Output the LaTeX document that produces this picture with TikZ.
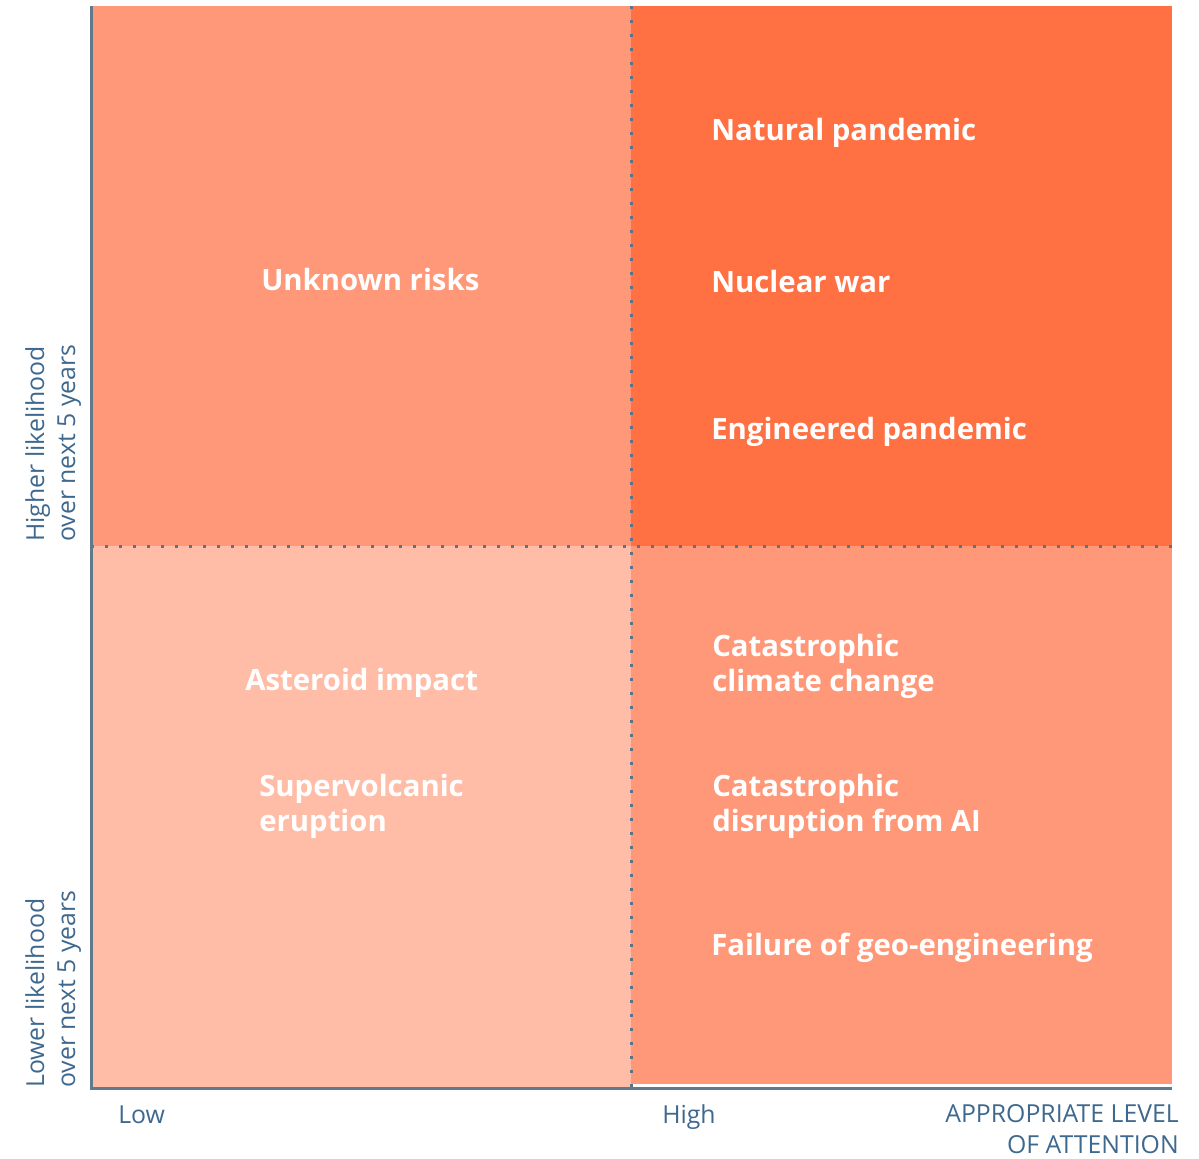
\documentclass[tikz,border=0pt]{standalone}
\usepackage{fontspec}
\setmainfont{Open Sans}
\definecolor{cellmid}{HTML}{FF9878}
\definecolor{cellhigh}{HTML}{FF7043}
\definecolor{celllow}{HTML}{FFBCA6}
\definecolor{axisgray}{HTML}{607A8C}
\definecolor{dotgray}{HTML}{5E7282}
\definecolor{axisblue}{HTML}{3E688E}
\tikzset{
  risk/.style={anchor=base west, inner sep=0pt, text=white, align=left,
    font=\fontsize{22}{26.25}\selectfont\bfseries},
  axislbl/.style={inner sep=0pt, text=axisblue,
    font=\fontsize{18.6}{23.25}\selectfont},
  divider/.style={dotgray, line width=2.25, dash pattern=on 2.25 off 8.25},
}
\begin{document}
\begin{tikzpicture}[x=0.75pt,y=0.75pt,yscale=-1,xscale=1]
\useasboundingbox (0,0) rectangle (1199,1158);

%Shape: Rectangle [upper left]
\fill [cellmid] (91,6) rectangle (631,546);
%Shape: Rectangle [upper right]
\fill [cellhigh] (631,6) rectangle (1172,546);
%Shape: Rectangle [lower left]
\fill [celllow] (91,546) rectangle (631,1087);
%Shape: Rectangle [lower right]
\fill [cellmid] (631,546) rectangle (1172,1084);

%Dotted Lines
\draw [divider] (631,6) -- (631,1087) ;
\draw [divider] (91,546) -- (1172,546) ;

%Straight Lines [axes]
\draw [axisgray, line width=2.25] (91,6) -- (91,1088) -- (1172,1088) ;

% Text Node
\draw (261,290) node [risk] (unknown) {Unknown risks};
% Text Node
\draw (711,140) node [risk] (natural) {Natural pandemic};
% Text Node
\draw (711,292) node [risk] (nuclear) {Nuclear war};
% Text Node
\draw (711,439) node [risk] (engineered) {Engineered pandemic};
% Text Node
\draw (245,690) node [risk] (asteroid) {Asteroid impact};
% Text Node
\draw (259,831) node [risk] (volcano) {Supervolcanic\\eruption};
% Text Node
\draw (712,691) node [risk] (climate) {Catastrophic\\climate change};
% Text Node
\draw (712,831) node [risk] (ai) {Catastrophic\\disruption from AI};
% Text Node
\draw (711,955) node [risk] (geo) {Failure of geo-engineering};

% Text Node
\draw (118,1123) node [axislbl, anchor=base west] (low) {Low};
% Text Node
\draw (662,1123) node [axislbl, anchor=base west] (high) {High};
% Text Node
\draw (1179,1153) node [axislbl, anchor=base east, align=right] (attention) {APPROPRIATE LEVEL\\OF ATTENTION};
% Text Node
\draw (75,542) node [axislbl, rotate=90, anchor=base west, align=left] (higher) {Higher likelihood\\over next 5 years};
% Text Node
\draw (75,1088) node [axislbl, rotate=90, anchor=base west, align=left] (lower) {Lower likelihood\\over next 5 years};

\end{tikzpicture}
\end{document}
